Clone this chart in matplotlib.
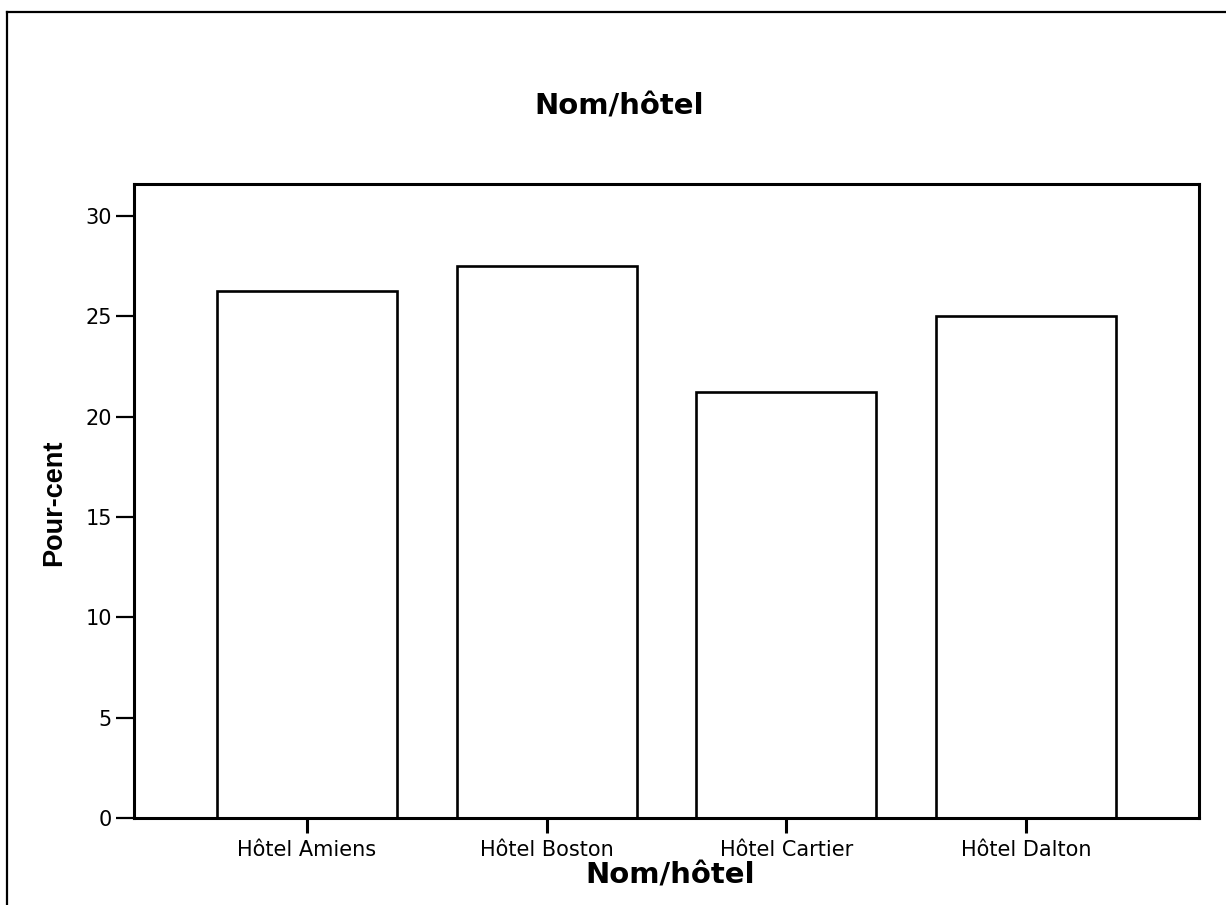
import matplotlib
matplotlib.use("Agg")
import matplotlib.pyplot as plt
from matplotlib.lines import Line2D

# data (percent of guests per hotel)
hotels = ["Hôtel Amiens", "Hôtel Boston", "Hôtel Cartier", "Hôtel Dalton"]
pourcent = [26.25, 27.5, 21.25, 25.0]
yticks = [0, 5, 10, 15, 20, 25, 30]

titre = "Nom/hôtel"
label_x = "Nom/hôtel"
label_y = "Pour-cent"

fig = plt.figure(figsize=(12.26, 9.05), dpi=100)
ax = fig.add_axes([0.1093, 0.0961, 0.8687, 0.7006])

xpos = list(range(len(hotels)))
ax.bar(xpos, pourcent, width=0.75, color="white", edgecolor="black", linewidth=1.9)

ax.set_xlim(-0.72, 3.72)
ax.set_ylim(0, 31.6)
ax.set_xticks(xpos)
ax.set_xticklabels(hotels, fontsize=15, family="DejaVu Sans")
ax.set_yticks(yticks)
ax.set_yticklabels([str(v) for v in yticks], fontsize=15, family="DejaVu Sans")

for s in ax.spines.values():
    s.set_linewidth(2.2)
ax.tick_params(axis="y", direction="out", length=13, width=1.6, pad=3)
ax.tick_params(axis="x", direction="out", length=11, width=2.2, pad=5)

# titles as figure text
fig.text(0.505, 0.882, titre, ha="center", va="center", fontsize=21,
         fontweight="bold", family="DejaVu Sans")
fig.text(0.547, 0.0243, label_x, ha="center", va="baseline", fontsize=21,
         fontweight="bold", family="DejaVu Sans")
fig.text(0.044, 0.444, label_y, ha="center", va="center", rotation=90,
         fontsize=19.5, fontweight="bold", family="Liberation Sans")

# outer frame, open on right and bottom
x0 = 7 / 1226
ytop = 1 - 12 / 905
fig.add_artist(Line2D([x0, 1.0], [ytop, ytop], color="black", linewidth=1.6,
                      transform=fig.transFigure))
fig.add_artist(Line2D([x0, x0], [ytop, 0.0], color="black", linewidth=1.6,
                      transform=fig.transFigure))

fig.savefig("out.png", dpi=100)
